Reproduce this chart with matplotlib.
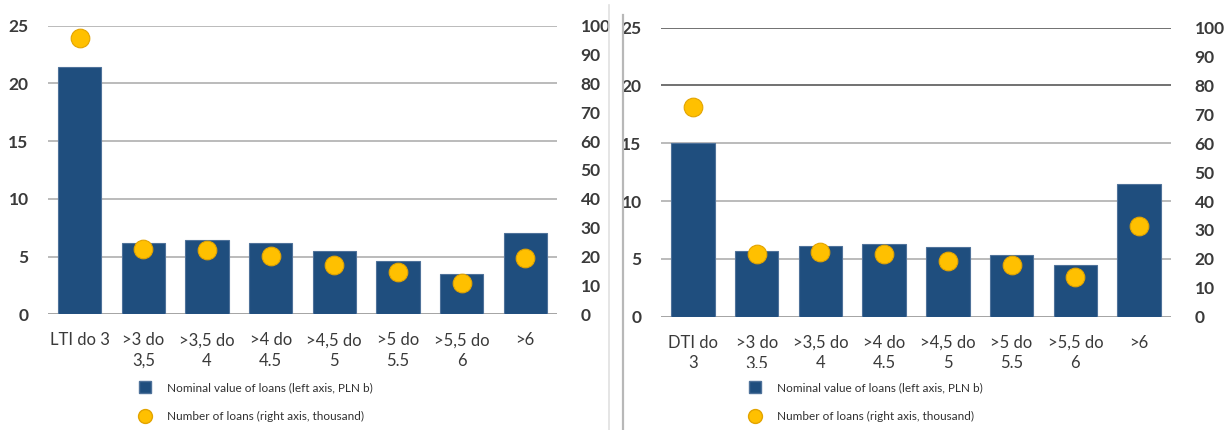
import matplotlib
matplotlib.use("Agg")
import matplotlib.pyplot as plt
from matplotlib.lines import Line2D
from matplotlib.transforms import Bbox, TransformedBbox

plt.rcParams["font.family"] = ["Lato", "DejaVu Sans"]

# LTI panel (left)
lti_labels = ["LTI do 3", ">3 do\n3,5", ">3,5 do\n4", ">4 do\n4.5",
              ">4,5 do\n5", ">5 do\n5.5", ">5,5 do\n6", ">6"]
lti_value = [21.4, 6.2, 6.45, 6.15, 5.5, 4.6, 3.5, 7.0]        # PLN b
lti_count = [95.8, 22.6, 22.3, 20.2, 17.2, 14.8, 10.7, 19.6]   # thousand

# DTI panel (right)
dti_labels = ["DTI do\n3", ">3 do\n3,5", ">3,5 do\n4", ">4 do\n4.5",
              ">4,5 do\n5", ">5 do\n5.5", ">5,5 do\n6", ">6"]
dti_value = [15.0, 5.7, 6.15, 6.25, 6.05, 5.3, 4.45, 11.5]
dti_count = [72.6, 21.7, 22.3, 21.7, 19.4, 17.8, 13.6, 31.5]

left_ticks = [0, 5, 10, 15, 20, 25]
right_ticks = [0, 10, 20, 30, 40, 50, 60, 70, 80, 90, 100]

BAR = "#1f4e7e"
BAR_EDGE = "#4f729a"
DOT = "#ffc000"
DOT_EDGE = "#e3a400"
TXT = "#3a3a3a"

W, H = 1227, 430
fig = plt.figure(figsize=(W / 100, H / 100), dpi=100)


def panel(rect, labels, values, counts, grid_colors, clip_bottom=None):
    ax = fig.add_axes(rect)
    x = list(range(len(labels)))
    for yv, c in zip(left_ticks, grid_colors):
        ax.axhline(yv, color=c, lw=1.1, zorder=0)
    ax.bar(x, values, width=0.68, color=BAR, edgecolor=BAR_EDGE, lw=0.8, zorder=2)
    ax.set_xlim(-0.5, len(labels) - 0.5)
    ax.set_ylim(0, 25)
    ax.set_yticks(left_ticks)
    ax.set_xticks(x)
    ax.set_xticklabels(labels, fontsize=12, color=TXT, linespacing=1.35)
    ax.tick_params(axis="both", length=0)
    ax.tick_params(axis="x", pad=13)
    ax.tick_params(axis="y", pad=14, labelsize=12.5, labelcolor=TXT)
    for t in ax.get_yticklabels():
        t.set_fontweight("bold")
    for s in ax.spines.values():
        s.set_visible(False)

    ax2 = ax.twinx()
    ax2.scatter(x, counts, s=180, color=DOT, edgecolor=DOT_EDGE, lw=0.8, zorder=3)
    ax2.set_ylim(0, 100)
    ax2.set_yticks(right_ticks)
    ax2.tick_params(axis="y", length=0, pad=17, labelsize=12.5, labelcolor=TXT)
    for t in ax2.get_yticklabels():
        t.set_fontweight("bold")
        t.set_ha("left")
    for s in ax2.spines.values():
        s.set_visible(False)

    if clip_bottom is not None:
        box = TransformedBbox(Bbox.from_extents(0, 1 - clip_bottom / H, 1, 1), fig.transFigure)
        for t in ax.get_xticklabels():
            t.set_clip_box(box)
            t.set_clip_on(True)
    return ax


ax_l = panel([48 / W, 1 - 314.3 / H, 509 / W, 288.8 / H],
             lti_labels, lti_value, lti_count, ["#8c8c8c"] + ["#a8a8a8"] * 5)
ax_r = panel([661 / W, 1 - 316.7 / H, 510 / W, 289 / H],
             dti_labels, dti_value, dti_count,
             ["#8c8c8c", "#a8a8a8", "#a8a8a8", "#a8a8a8", "#4a4a4a", "#4a4a4a"],
             clip_bottom=368)

# panel separators
fig.add_artist(Line2D([609 / W, 609 / W], [0, 1 - 5 / H], transform=fig.transFigure,
                      color="#e0e0e0", lw=1.2))
fig.add_artist(Line2D([622.5 / W, 622.5 / W], [0, 1 - 15 / H], transform=fig.transFigure,
                      color="#b8b8b8", lw=1.6))

handles = [
    Line2D([0], [0], marker="s", ls="none", markersize=9, markerfacecolor=BAR,
           markeredgecolor=BAR_EDGE),
    Line2D([0], [0], marker="o", ls="none", markersize=10, markerfacecolor=DOT,
           markeredgecolor=DOT_EDGE),
]
names = ["Nominal value of loans (left axis, PLN b)", "Number of loans (right axis, thousand)"]
for x0 in (133 / W, 743 / W):
    fig.legend(handles, names, loc="upper left", bbox_to_anchor=(x0, 1 - 376 / H),
               frameon=False, fontsize=8.5, labelspacing=1.55, handlelength=1.0,
               handletextpad=1.4, borderpad=0, labelcolor="#303030")

fig.savefig("out.png", dpi=100)
